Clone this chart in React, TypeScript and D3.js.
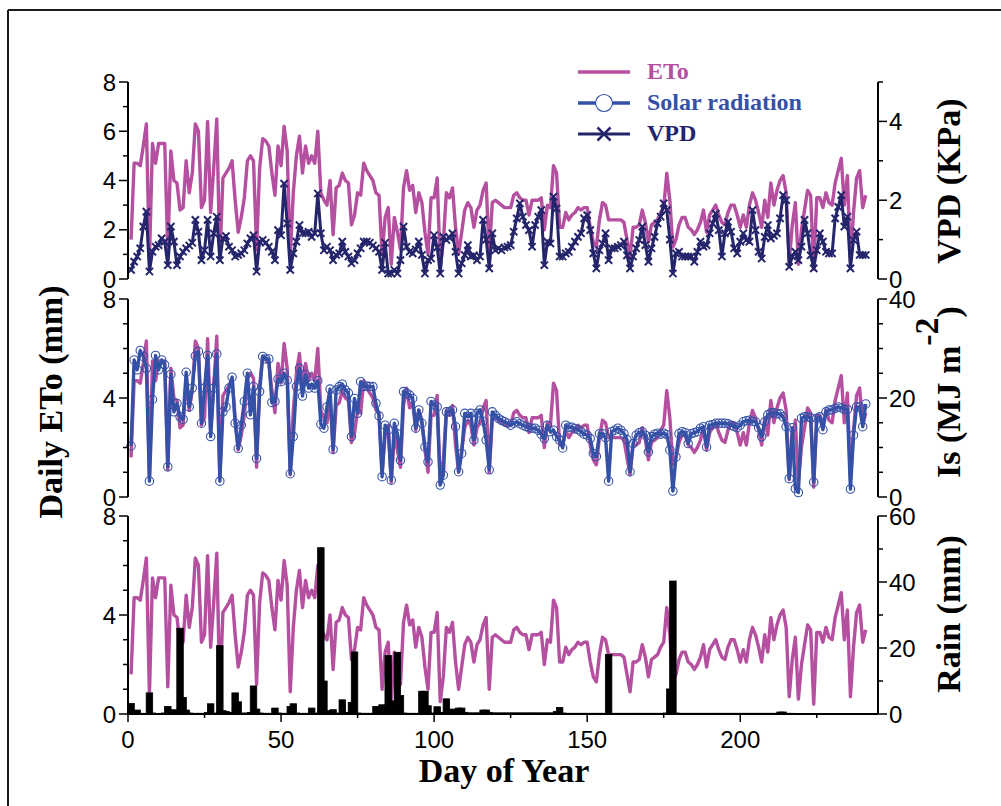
import React from "react";
import * as d3 from "d3";

// Daily reference evapotranspiration (mm), day 1 .. 241
const etoMm = [
  1.6, 4.7, 4.7, 4.6, 5.4, 6.3, 0.8, 5.5, 4.7, 5.5,
  5.5, 5.5, 1.1, 5.2, 4.0, 3.9, 2.8, 2.9, 4.8, 3.5,
  4.3, 6.3, 6.0, 2.9, 3.2, 6.4, 2.7, 4.5, 6.5, 0.8,
  4.1, 4.3, 4.5, 4.8, 3.2, 1.9, 2.5, 3.3, 4.8, 5.0,
  4.8, 1.2, 4.5, 5.7, 5.6, 5.4, 4.3, 3.4, 5.4, 4.6,
  6.2, 5.2, 0.9, 3.5, 5.0, 5.8, 4.3, 5.4, 4.7, 5.0,
  4.7, 6.0, 3.5, 3.2, 3.0, 4.0, 1.8, 3.7, 3.8, 4.3,
  4.0, 3.9, 2.2, 2.6, 3.5, 3.4, 4.7, 4.4, 4.2, 4.0,
  3.5, 3.4, 1.0, 2.5, 2.9, 0.6, 2.5, 1.9, 1.2, 3.7,
  4.4, 3.6, 3.8, 2.7, 3.5, 3.1, 1.9, 1.0, 3.3, 3.3,
  4.1, 0.5, 1.5, 3.5, 3.3, 3.7, 2.1, 1.0, 1.9, 2.8,
  3.1, 2.9, 2.1, 2.8, 3.0, 3.6, 3.9, 1.0, 3.1, 3.2,
  3.1, 3.0, 2.9, 2.9, 2.9, 3.4, 3.5, 3.3, 3.2, 3.2,
  2.6, 3.2, 3.2, 3.2, 3.3, 2.0, 3.0, 2.9, 4.6, 4.3,
  2.1, 2.1, 2.7, 2.4, 2.6, 2.7, 2.9, 2.8, 2.9, 2.9,
  2.1, 1.5, 1.3, 2.4, 3.1, 3.0, 2.4, 2.4, 2.4, 2.4,
  2.4, 2.3, 1.6, 0.9, 2.1, 2.1, 2.2, 2.8, 2.3, 1.5,
  2.2, 2.3, 2.4, 2.7, 2.9, 4.3, 3.2, 1.3, 1.6, 2.2,
  2.5, 2.5, 2.1, 2.0, 1.8, 2.0, 2.3, 2.8, 1.9, 2.6,
  2.8, 3.0, 2.6, 2.3, 2.2, 2.7, 3.0, 3.0, 2.6, 2.1,
  2.6, 2.1, 3.0, 3.5, 3.2, 2.7, 2.1, 3.2, 2.5, 3.9,
  3.0, 3.6, 4.0, 4.2, 3.5, 0.7, 2.2, 3.1, 0.6, 2.0,
  2.8, 3.6, 3.4, 0.4, 3.3, 3.3, 2.9, 3.5, 3.1, 3.0,
  3.9, 4.4, 4.9, 3.0, 4.2, 0.7, 2.7, 4.1, 4.4, 2.9, 3.4,
];

// Daily solar radiation Is (MJ m-2), day 1 .. 241
const solarMJ = [
  10.3, 27.7, 25.7, 29.6, 28.4, 26.0, 3.2, 19.7, 28.6, 25.7,
  27.7, 26.7, 6.1, 24.8, 17.2, 18.9, 16.2, 15.7, 25.2, 18.2,
  22.0, 28.5, 29.4, 14.9, 22.0, 28.6, 12.2, 22.0, 28.9, 3.2,
  17.2, 18.2, 22.0, 24.2, 14.9, 9.8, 14.5, 19.3, 25.0, 16.6,
  22.3, 7.8, 21.3, 28.4, 27.9, 27.9, 19.1, 19.3, 23.8, 23.3,
  25.0, 23.6, 4.7, 12.2, 22.3, 26.0, 20.4, 24.7, 22.0, 22.8,
  22.0, 23.5, 14.7, 13.9, 18.2, 21.8, 9.6, 21.6, 22.3, 22.8,
  21.6, 21.0, 12.2, 19.9, 16.9, 23.3, 22.3, 22.4, 22.3, 22.3,
  18.9, 16.4, 4.1, 14.5, 13.5, 3.4, 14.9, 12.8, 7.4, 21.3,
  21.0, 20.6, 19.9, 13.9, 17.6, 14.9, 10.1, 7.1, 19.3, 18.6,
  18.2, 2.4, 4.4, 17.2, 17.2, 17.6, 14.2, 5.1, 8.8, 16.9,
  16.2, 16.9, 11.5, 16.9, 17.6, 15.3, 11.5, 5.5, 17.2, 16.5,
  15.9, 15.5, 15.2, 14.9, 14.5, 14.9, 15.2, 14.8, 14.5, 14.2,
  14.0, 13.9, 13.9, 13.5, 12.7, 11.8, 14.5, 13.2, 13.5, 12.2,
  11.5, 9.9, 14.5, 14.1, 14.1, 13.8, 13.6, 13.2, 12.7, 12.5,
  11.8, 8.8, 8.2, 12.8, 12.8, 12.0, 3.2, 13.2, 13.5, 13.9,
  13.5, 12.8, 11.6, 5.1, 10.8, 12.5, 13.0, 13.2, 12.5, 9.1,
  12.2, 12.7, 12.9, 12.7, 12.9, 12.6, 9.5, 1.2, 8.1, 12.8,
  13.2, 13.0, 10.8, 12.8, 13.0, 13.2, 13.9, 14.2, 10.1, 14.5,
  14.6, 14.9, 14.9, 14.9, 14.9, 14.8, 14.5, 14.2, 14.0, 14.5,
  15.2, 15.4, 15.5, 15.3, 15.2, 14.0, 12.2, 15.2, 16.6, 17.0,
  17.0, 16.8, 16.8, 16.2, 14.2, 3.7, 14.0, 1.7, 0.9, 15.9,
  16.2, 16.2, 16.0, 3.0, 15.9, 16.2, 13.6, 17.2, 17.6, 17.6,
  17.9, 18.2, 18.0, 17.7, 17.7, 1.6, 12.5, 18.2, 18.2, 14.2, 18.8,
];

// Daily vapour pressure deficit (kPa), day 1 .. 241
const vpdKPa = [
  0.23, 0.44, 0.57, 0.78, 1.33, 1.71, 0.19, 0.69, 0.82, 0.86,
  1.03, 0.95, 0.35, 1.33, 0.95, 0.35, 0.57, 0.69, 0.78, 0.85,
  0.92, 1.5, 1.2, 0.48, 0.73, 1.5, 0.57, 1.16, 1.58, 0.48,
  1.03, 1.09, 0.82, 0.73, 0.57, 0.61, 0.65, 0.73, 0.9, 1.03,
  1.11, 0.19, 0.95, 0.99, 0.92, 0.82, 0.69, 0.48, 1.24, 1.11,
  2.42, 1.41, 0.23, 0.65, 0.95, 1.37, 1.16, 1.16, 1.2, 1.07,
  1.16, 2.17, 1.16, 0.73, 0.82, 0.73, 0.48, 0.61, 0.65, 0.95,
  0.69, 0.57, 0.4, 0.48, 0.65, 0.78, 0.95, 0.95, 0.92, 0.85,
  0.78, 0.69, 0.23, 0.92, 0.14, 0.14, 0.23, 0.14, 0.48, 1.33,
  0.82, 0.69, 0.65, 0.75, 0.95, 0.61, 0.14, 0.48, 0.52, 1.11,
  0.8, 0.14, 1.07, 0.99, 1.05, 1.16, 0.69, 0.14, 0.4, 0.61,
  0.86, 0.57, 0.6, 0.48, 0.57, 1.5, 1.0, 0.27, 1.16, 0.73,
  0.78, 0.73, 0.8, 0.82, 0.86, 1.2, 1.54, 1.92, 1.58, 1.37,
  1.24, 0.82, 1.37, 1.58, 1.75, 0.35, 0.95, 0.9, 2.09, 1.79,
  0.57, 0.57, 0.65, 0.69, 0.82, 0.95, 1.07, 1.16, 1.54, 1.62,
  1.24, 0.65, 0.27, 0.73, 0.9, 1.16, 0.48, 0.78, 0.78, 0.82,
  0.86, 0.95, 0.6, 0.27, 0.57, 0.78, 0.99, 1.33, 0.86, 0.44,
  0.78, 1.07, 1.41, 1.58, 1.92, 1.75, 1.0, 0.14, 0.65, 0.69,
  0.57, 0.57, 0.57, 0.57, 0.44, 0.69, 0.95, 0.82, 0.86, 1.16,
  1.41, 1.66, 1.24, 0.57, 1.16, 1.45, 1.2, 0.78, 0.65, 0.95,
  1.16, 0.99, 0.95, 1.75, 1.24, 0.69, 0.52, 1.07, 1.37, 1.03,
  1.1, 1.16, 1.54, 2.13, 2.0, 0.31, 0.57, 0.69, 0.48, 0.82,
  1.5, 1.16, 0.6, 0.27, 0.73, 1.16, 0.95, 0.69, 0.65, 0.65,
  1.54, 1.83, 2.13, 1.33, 1.58, 0.27, 0.99, 1.2, 0.61, 0.61, 0.61,
];

// Daily rainfall (mm), day 1 .. 217
const rainMm = [
  3.2, 0.3, 1.2, 0.2, 0.2, 0, 6.4, 0.3, 0, 0,
  0.2, 0.3, 2.3, 0.3, 1.3, 0.5, 26.0, 5.0, 1.2, 0.3,
  0.2, 0.2, 0.2, 0.2, 0.2, 0.5, 3.1, 0.3, 0, 20.7,
  1.0, 0.8, 0.3, 0.5, 6.4, 3.7, 0.3, 0.2, 0.3, 0.5,
  8.5, 1.5, 0.3, 0.2, 0.2, 0.2, 0.2, 1.8, 0.3, 0.2,
  0.2, 0.2, 2.3, 3.1, 0.3, 0.2, 0.2, 0.2, 0.2, 1.8,
  0.3, 0.2, 50.4, 10.0, 0.3, 1.0, 1.3, 0.3, 0.2, 4.3,
  0.3, 0.5, 3.5, 18.8, 0.3, 0.2, 0.2, 0.2, 0.2, 0.2,
  2.3, 0.5, 2.8, 0.5, 17.7, 4.0, 2.0, 18.7, 5.6, 0.3,
  0.2, 0.2, 0.2, 0.2, 0.2, 6.9, 6.9, 2.5, 0.2, 0.3,
  2.2, 0.5, 0.3, 4.6, 0.5, 1.5, 0.3, 1.8, 1.8, 0.5,
  0.3, 0.3, 0.3, 0.3, 0.3, 1.2, 1.2, 0.5, 0.3, 0.3,
  0.3, 0.3, 0.3, 0.3, 0.3, 0.3, 0.3, 0.3, 0.3, 0.3,
  0.3, 0.3, 0.3, 0.3, 0.3, 0.3, 0.3, 0.3, 0.3, 0.8,
  2.0, 0.3, 0.2, 0.2, 0.2, 0.2, 0.2, 0.2, 0.2, 0.2,
  0.2, 0.2, 0.2, 0.2, 0.2, 0.2, 18.0, 0.2, 0.2, 0.2,
  0.2, 0.2, 0.2, 0.2, 0.2, 0.2, 0.2, 0.2, 0.2, 0.2,
  0.2, 0.2, 0.2, 0.2, 0.2, 0.3, 7.6, 40.3, 0.3, 0.2,
  0.2, 0.2, 0.2, 0.2, 0.2, 0.2, 0.2, 0.2, 0.2, 0.2,
  0.2, 0.2, 0.2, 0.2, 0.2, 0.2, 0.2, 0.2, 0.2, 0.2,
  0.2, 0.2, 0.2, 0.2, 0.2, 0.2, 0.2, 0.2, 0.2, 0.2,
  0.2, 0.2, 0.6, 0.6, 0.2, 0.2, 0.2,
];

const dayMajorTicks = [0, 50, 100, 150, 200];
const dayMinorTicks = [25, 75, 125, 175, 225];
const etoTopMajor = [0, 2, 4, 6, 8];
const etoTopMinor = [1, 3, 5, 7];
const etoMajor = [0, 4, 8];
const etoMinor = [1, 2, 3, 5, 6, 7];
const vpdMajor = [0, 2, 4];
const vpdMinor = [1, 3, 5];
const solarMajor = [0, 20, 40];
const solarMinor = [5, 10, 15, 25, 30, 35];
const rainMajor = [0, 20, 40, 60];
const rainMinor = [10, 30, 50];

const ETO_COLOR = "#b54fa0";
const SOLAR_COLOR = "#3451a7";
const VPD_COLOR = "#25256c";
const SANS = "'Liberation Sans', Arial, sans-serif";
const SERIF = "'Liberation Serif', 'Times New Roman', serif";

const X0 = 128;
const X1 = 878;

export default function App() {
  const x = d3.scaleLinear().domain([0, 245]).range([X0, X1]);

  const yEto1 = d3.scaleLinear().domain([0, 8]).range([279, 82]);
  const yVpd = d3.scaleLinear().domain([0, 5]).range([279, 82]);
  const yEto2 = d3.scaleLinear().domain([0, 8]).range([497, 299]);
  const ySolar = d3.scaleLinear().domain([0, 40]).range([497, 299]);
  const yEto3 = d3.scaleLinear().domain([0, 8]).range([714, 516]);
  const yRain = d3.scaleLinear().domain([0, 60]).range([714, 516]);

  const lineOf = (y: d3.ScaleLinear<number, number>) =>
    d3
      .line<number>()
      .x((_, i) => x(i + 1))
      .y((v) => y(v));

  const leftAxis = (
    y: d3.ScaleLinear<number, number>,
    major: number[],
    minor: number[],
    key: string
  ) => {
    const [r0, r1] = y.range();
    return (
      <g key={key}>
        <line x1={X0} x2={X0} y1={r0} y2={r1} stroke="#000" strokeWidth={2} />
        {major.map((t) => (
          <g key={"M" + t}>
            <line x1={X0 - 9} x2={X0} y1={y(t)} y2={y(t)} stroke="#000" strokeWidth={1.5} />
            <text
              x={X0 - 12}
              y={y(t)}
              dy="0.36em"
              textAnchor="end"
              fontFamily={SANS}
              fontSize={24}
              fill="#000"
            >
              {t}
            </text>
          </g>
        ))}
        {minor.map((t) => (
          <line key={"m" + t} x1={X0 - 5} x2={X0} y1={y(t)} y2={y(t)} stroke="#000" strokeWidth={1.5} />
        ))}
      </g>
    );
  };

  const rightAxis = (
    y: d3.ScaleLinear<number, number>,
    major: number[],
    minor: number[],
    key: string
  ) => {
    const [r0, r1] = y.range();
    return (
      <g key={key}>
        <line x1={X1} x2={X1} y1={r0} y2={r1} stroke="#000" strokeWidth={2} />
        {major.map((t) => (
          <g key={"M" + t}>
            <line x1={X1} x2={X1 + 9} y1={y(t)} y2={y(t)} stroke="#000" strokeWidth={1.5} />
            <text
              x={X1 + 11}
              y={y(t)}
              dy="0.36em"
              textAnchor="start"
              fontFamily={SANS}
              fontSize={24}
              fill="#000"
            >
              {t}
            </text>
          </g>
        ))}
        {minor.map((t) => (
          <line key={"m" + t} x1={X1} x2={X1 + 5} y1={y(t)} y2={y(t)} stroke="#000" strokeWidth={1.5} />
        ))}
      </g>
    );
  };

  const barW = 6.5;
  const crossPath = (s: number) => `M${-s},${-s}L${s},${s}M${-s},${s}L${s},${-s}`;

  return (
    <svg
      width={1001}
      height={806}
      style={{ position: "absolute", left: 0, top: 0, background: "#fff" }}
    >
      <rect x={0} y={0} width={1001} height={806} fill="#fff" />
      {/* outer frame */}
      <line x1={8} x2={1001} y1={10} y2={10} stroke="#1a1a1a" strokeWidth={2} />
      <line x1={8} x2={8} y1={10} y2={806} stroke="#1a1a1a" strokeWidth={2} />

      {/* panel 1: ETo and VPD */}
      <path d={lineOf(yEto1)(etoMm) || ""} fill="none" stroke={ETO_COLOR} strokeWidth={3.4} strokeLinejoin="round" />
      <path d={lineOf(yVpd)(vpdKPa) || ""} fill="none" stroke={VPD_COLOR} strokeWidth={3} strokeLinejoin="round" />
      {vpdKPa.map((v, i) => (
        <path
          key={"v" + i}
          d={crossPath(3.6)}
          transform={`translate(${x(i + 1)},${yVpd(v)})`}
          stroke={VPD_COLOR}
          strokeWidth={2}
          fill="none"
        />
      ))}
      {leftAxis(yEto1, etoTopMajor, etoTopMinor, "l1")}
      {rightAxis(yVpd, vpdMajor, vpdMinor, "r1")}

      {/* panel 2: ETo and solar radiation */}
      <path d={lineOf(yEto2)(etoMm) || ""} fill="none" stroke={ETO_COLOR} strokeWidth={3.4} strokeLinejoin="round" />
      <path d={lineOf(ySolar)(solarMJ) || ""} fill="none" stroke={SOLAR_COLOR} strokeWidth={3.4} strokeLinejoin="round" />
      {solarMJ.map((v, i) => (
        <circle
          key={"s" + i}
          cx={x(i + 1)}
          cy={ySolar(v)}
          r={4.2}
          fill="none"
          stroke={SOLAR_COLOR}
          strokeWidth={1.1}
        />
      ))}
      {leftAxis(yEto2, etoMajor, etoMinor, "l2")}
      {rightAxis(ySolar, solarMajor, solarMinor, "r2")}

      {/* panel 3: ETo and rainfall */}
      <path d={lineOf(yEto3)(etoMm) || ""} fill="none" stroke={ETO_COLOR} strokeWidth={3.4} strokeLinejoin="round" />
      {rainMm.map((v, i) => (
        <rect
          key={"r" + i}
          x={x(i + 1) - barW / 2}
          y={yRain(v)}
          width={barW}
          height={yRain(0) - yRain(v)}
          fill="#000"
          stroke="#000"
          strokeWidth={0.8}
        />
      ))}
      {leftAxis(yEto3, etoMajor, etoMinor, "l3")}
      {rightAxis(yRain, rainMajor, rainMinor, "r3")}

      {/* day-of-year axis */}
      <line x1={X0} x2={X1} y1={714} y2={714} stroke="#000" strokeWidth={2} />
      {dayMajorTicks.map((t) => (
        <g key={"dx" + t}>
          <line x1={x(t)} x2={x(t)} y1={714} y2={722} stroke="#000" strokeWidth={1.5} />
          <text x={x(t)} y={748} textAnchor="middle" fontFamily={SANS} fontSize={24} fill="#000">
            {t}
          </text>
        </g>
      ))}
      {dayMinorTicks.map((t) => (
        <line key={"dm" + t} x1={x(t)} x2={x(t)} y1={714} y2={718} stroke="#000" strokeWidth={1.5} />
      ))}

      {/* axis titles */}
      <text
        transform="translate(62,402) rotate(-90)"
        textAnchor="middle"
        fontFamily={SERIF}
        fontWeight="bold"
        fontSize={34}
        fill="#000"
      >
        Daily ETo (mm)
      </text>
      <text x={504} y={782} textAnchor="middle" fontFamily={SERIF} fontWeight="bold" fontSize={34} fill="#000">
        Day of Year
      </text>
      <text
        transform="translate(960,181) rotate(-90)"
        textAnchor="middle"
        fontFamily={SERIF}
        fontWeight="bold"
        fontSize={34}
        fill="#000"
      >
        VPD (KPa)
      </text>
      <text
        transform="translate(960,392) rotate(-90)"
        textAnchor="middle"
        fontFamily={SERIF}
        fontWeight="bold"
        fontSize={34}
        fill="#000"
      >
        <tspan>Is (MJ m</tspan>
        <tspan dy={-22}>-2</tspan>
        <tspan dy={22}>)</tspan>
      </text>
      <text
        transform="translate(960,614) rotate(-90)"
        textAnchor="middle"
        fontFamily={SERIF}
        fontWeight="bold"
        fontSize={34}
        fill="#000"
      >
        Rain (mm)
      </text>

      {/* legend */}
      <g>
        <line x1={578} x2={630} y1={72} y2={72} stroke={ETO_COLOR} strokeWidth={3.4} />
        <text x={647} y={79} fontFamily={SERIF} fontWeight="bold" fontSize={24} fill={ETO_COLOR}>
          ETo
        </text>
        <line x1={578} x2={630} y1={103} y2={103} stroke={SOLAR_COLOR} strokeWidth={3.4} />
        <circle cx={604} cy={103} r={8.5} fill="#fff" stroke={SOLAR_COLOR} strokeWidth={1.1} />
        <text x={647} y={110} fontFamily={SERIF} fontWeight="bold" fontSize={24} fill={SOLAR_COLOR}>
          Solar radiation
        </text>
        <line x1={578} x2={630} y1={134} y2={134} stroke={VPD_COLOR} strokeWidth={3} />
        <path
          d={crossPath(6.5)}
          transform="translate(604,134)"
          stroke={VPD_COLOR}
          strokeWidth={2.5}
          fill="none"
        />
        <text x={647} y={141} fontFamily={SERIF} fontWeight="bold" fontSize={24} fill={VPD_COLOR}>
          VPD
        </text>
      </g>
    </svg>
  );
}
